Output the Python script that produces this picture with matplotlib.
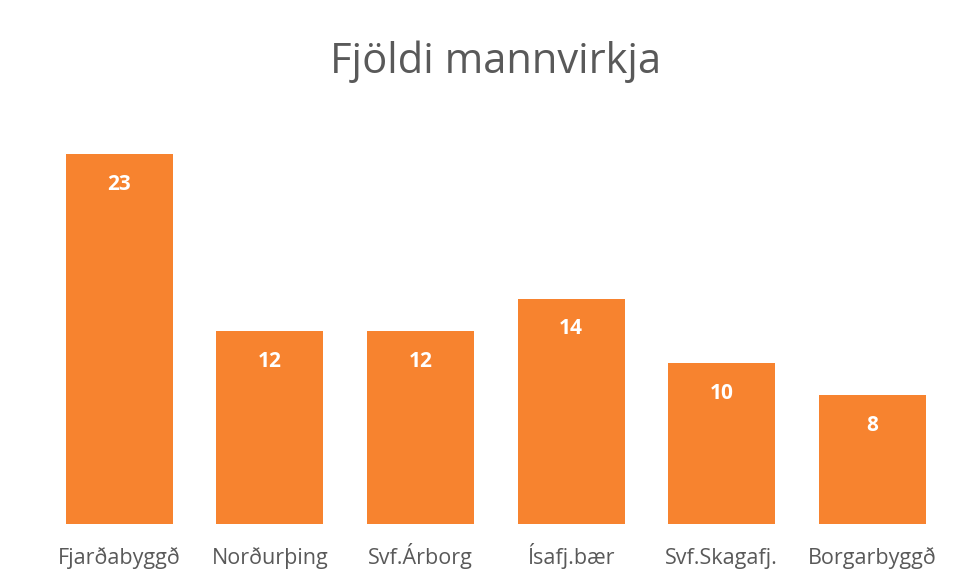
import matplotlib
matplotlib.use("Agg")
import matplotlib.pyplot as plt
import numpy as np

# data
towns = ["Fjarðabyggð", "Norðurþing", "Svf.Árborg", "Ísafj.bær", "Svf.Skagafj.", "Borgarbyggð"]
counts = [23, 12, 12, 14, 10, 8]

plt.rcParams['font.family'] = ['Open Sans', 'DejaVu Sans']

fig = plt.figure(figsize=(9.69, 5.73), dpi=100)
ax = fig.add_axes([0.0454, 0.0855, 0.9326, 0.702])

x = np.arange(len(towns))
bars = ax.bar(x, counts, width=0.71, color="#F7832F", zorder=2)

# value labels inside the top of each bar
for xi, v in zip(x, counts):
    ax.text(xi, v - 1.87, str(v), ha="center", va="center",
            color="white", fontsize=15, fontweight="bold", zorder=3)

ax.set_xlim(-0.5, len(towns) - 0.5)
ax.set_ylim(0, 25)
ax.set_xticks(x)
# same baseline for every label, accents or not
ax.set_xticklabels(towns, fontsize=15.5, color="#595959", va="baseline")
ax.tick_params(axis="x", length=0, pad=29)
ax.set_yticks([])
for s in ax.spines.values():
    s.set_visible(False)

fig.text(0.511, 0.893, "Fjöldi mannvirkja", ha="center", va="center",
         fontsize=30, color="#595959")

fig.savefig("out.png", dpi=100)
